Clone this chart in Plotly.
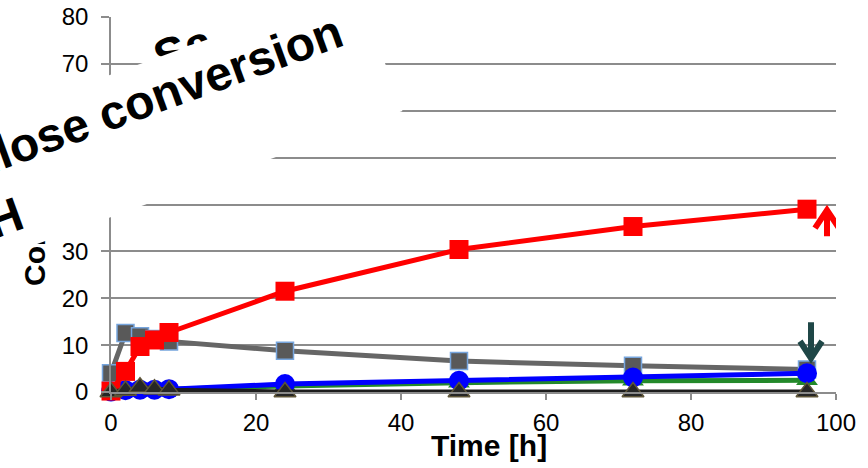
import plotly.graph_objects as go

# ---- data -----------------------------------------------------------------
time_h = [0, 2, 4, 6, 8, 24, 48, 72, 96]
red_sq = [0.2, 4.4, 9.7, 11.1, 12.7, 21.5, 30.4, 35.3, 39.0]
gray_sq = [4.0, 12.6, 11.9, 11.3, 10.8, 8.8, 6.6, 5.6, 4.8]
green_tri = [0.2, 0.4, 0.5, 0.5, 0.6, 1.3, 2.0, 2.4, 2.5]
blue_circ = [0.1, 0.4, 0.5, 0.5, 0.6, 1.7, 2.4, 3.1, 4.0]
black_tri = [0.0, 0.3, 1.0, 0.6, 0.4, 0.0, 0.0, 0.0, 0.0]

x_ticks = [0, 20, 40, 60, 80, 100]
y_ticks = [0, 10, 20, 30, 40, 50, 60, 70, 80]

y_title = "Conc. [g/L]"
x_title = "Time [h]"
heading_top = "Sa"
heading_box = "Cellulose conversion<br>at pH"

# ---- layout constants ---------------------------------------------------------
W, H = 868, 468
ML, MR, MT, MB = 111, 32, 17, 76
PW, PH = W - ML - MR, H - MT - MB
FONT = "Liberation Sans, Arial, sans-serif"
GRID = "#8c8c8c"


def paper(px, py):
    """Pixel position on the page -> paper coordinates."""
    return (px - ML) / PW, (H - MB - py) / PH


fig = go.Figure()


def add_series(y, line_color, symbol, size, fill, edge=None, edge_w=0, lw=5):
    fig.add_trace(go.Scatter(
        x=time_h, y=y, mode="lines+markers", cliponaxis=False,
        line=dict(color=line_color, width=lw),
        marker=dict(symbol=symbol, size=size, color=fill,
                    line=dict(color=edge or fill, width=edge_w)),
        showlegend=False, hoverinfo="x+y",
    ))


add_series(gray_sq, "#666666", "square", 17, "#595959", "#76a5dd", 1.5)
add_series(green_tri, "#23892a", "triangle-up", 19, "#23892a")
add_series(blue_circ, "#0000ff", "circle", 20, "#0000ff")
add_series(red_sq, "#ff0000", "square", 19, "#ff0000")
add_series(black_tri, "#1c1c1c", "triangle-up", 19, "#262626", "#5e5538", 1.5)

# ---- arrows next to the final points ---------------------------------------
fig.add_shape(type="path", xref="x", yref="y", layer="above",
              xsizemode="pixel", ysizemode="pixel",
              xanchor=time_h[-1], yanchor=red_sq[-1],
              path="M20,-27 L20,-1 M8,-19 L20,-1 L32,-19",
              line=dict(color="#ff0000", width=6))
fig.add_shape(type="path", xref="x", yref="y", layer="above",
              xsizemode="pixel", ysizemode="pixel",
              xanchor=time_h[-1], yanchor=blue_circ[-1],
              path="M4,51 L4,15 M-7,32 L4,15 L15,32",
              line=dict(color="#1f4747", width=6))

# ---- texts ------------------------------------------------------------------
annotations = []

ax, ay = paper(34, 208)
annotations.append(dict(text=y_title, xref="paper", yref="paper", x=ax, y=ay,
                        xanchor="center", yanchor="middle", textangle=-90,
                        showarrow=False,
                        font=dict(family=FONT, size=30, color="black", weight="bold")))

ax, ay = paper(183, 50)
annotations.append(dict(text=heading_top, xref="paper", yref="paper", x=ax, y=ay,
                        xanchor="center", yanchor="middle", textangle=-20,
                        showarrow=False,
                        font=dict(family=FONT, size=48, color="black", weight="bold")))

ax, ay = paper(138, 136)
annotations.append(dict(text=heading_box, xref="paper", yref="paper", x=ax, y=ay,
                        xanchor="center", yanchor="middle", textangle=-20,
                        showarrow=False, align="left", valign="middle",
                        width=513, height=134, bgcolor="white",
                        borderpad=0, borderwidth=0,
                        font=dict(family=FONT, size=48, color="black", weight="bold")))

ax, ay = paper(489, 446)
annotations.append(dict(text=x_title, xref="paper", yref="paper", x=ax, y=ay,
                        xanchor="center", yanchor="middle", showarrow=False,
                        font=dict(family=FONT, size=30, color="black", weight="bold")))

fig.update_layout(
    width=W, height=H, margin=dict(l=ML, r=MR, t=MT, b=MB, autoexpand=False),
    paper_bgcolor="white", plot_bgcolor="white",
    font=dict(family=FONT, size=24, color="black"),
    annotations=annotations,
    xaxis=dict(range=[0, 100], tickvals=x_ticks, showgrid=False, zeroline=False,
               showline=True, linecolor=GRID, linewidth=1.5,
               ticks="outside", ticklen=6, tickcolor=GRID, tickwidth=1.5,
               ticklabelstandoff=2, tickfont=dict(size=24)),
    yaxis=dict(range=[0, 80], tickvals=y_ticks, showgrid=True, gridcolor=GRID,
               gridwidth=1.5, zeroline=False,
               showline=True, linecolor=GRID, linewidth=1.5,
               ticks="outside", ticklen=8, tickcolor=GRID, tickwidth=1.5,
               ticklabelstandoff=8, tickfont=dict(size=24)),
)

fig.write_html("out.html")
